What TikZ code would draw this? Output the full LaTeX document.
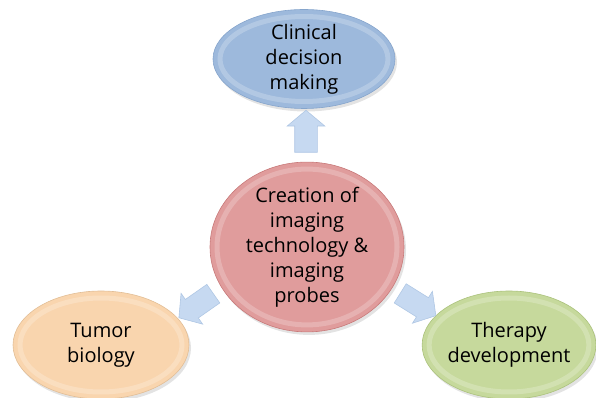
\documentclass[tikz,border=0pt]{standalone}
\usepackage{fontspec}
\setmainfont{Open Sans}
\usetikzlibrary{shapes.geometric,shapes.arrows,shadows,calc}
\definecolor{cblue}{HTML}{9DB9DC}
\definecolor{cbluerim}{HTML}{86A5CC}
\definecolor{cpink}{HTML}{E09C9C}
\definecolor{cpinkrim}{HTML}{C87A7A}
\definecolor{cpeach}{HTML}{F9D5AE}
\definecolor{cpeachrim}{HTML}{E2BE96}
\definecolor{cgreen}{HTML}{C6D99C}
\definecolor{cgreenrim}{HTML}{ABC27C}
\definecolor{carrow}{HTML}{C6D9F1}
\definecolor{carrowrim}{HTML}{AFC7E4}
\tikzset{
  bubble/.style={ellipse, inner sep=0pt, line width=0.6pt, align=center,
    font=\fontsize{20}{25}\selectfont, text=black,
    drop shadow={shadow xshift=2pt, shadow yshift=-3pt, opacity=.22},
    path picture={\draw[white,opacity=.22,line width=5pt]
      let \p1=(path picture bounding box.north east),
          \p2=(path picture bounding box.center) in
      (\p2) ellipse [x radius=\x1-\x2-7pt, y radius=\y1-\y2-7pt];}},
  blockarrow/.style={single arrow, draw=carrowrim, fill=carrow, line width=0.6pt,
    minimum height=42pt, inner xsep=0pt, inner ysep=11pt,
    single arrow head extend=7.5pt, single arrow tip angle=100}
}
\begin{document}
\begin{tikzpicture}[x=1pt,y=1pt]
\useasboundingbox (0,0) rectangle (596,398);
\node[bubble, fill=cblue, draw=cbluerim, minimum width=182pt, minimum height=98pt]
  (clin) at (304,339) {Clinical\\decision\\making};
\node[bubble, fill=cpink, draw=cpinkrim, minimum width=194pt, minimum height=168pt]
  (core) at (307,151) {Creation of\\imaging\\technology \&\\imaging\\probes};
\node[bubble, fill=cpeach, draw=cpeachrim, minimum width=176pt, minimum height=108pt]
  (tumor) at (101,53) {Tumor\\biology};
\node[bubble, fill=cgreen, draw=cgreenrim, minimum width=172pt, minimum height=108pt]
  (ther) at (509,53) {Therapy\\development};
\node[blockarrow, rotate=90] (aup) at (306,262) {};
\node[blockarrow, rotate=215] (aleft) at (200,95) {};
\node[blockarrow, rotate=-32] (aright) at (414,96) {};
\end{tikzpicture}
\end{document}
